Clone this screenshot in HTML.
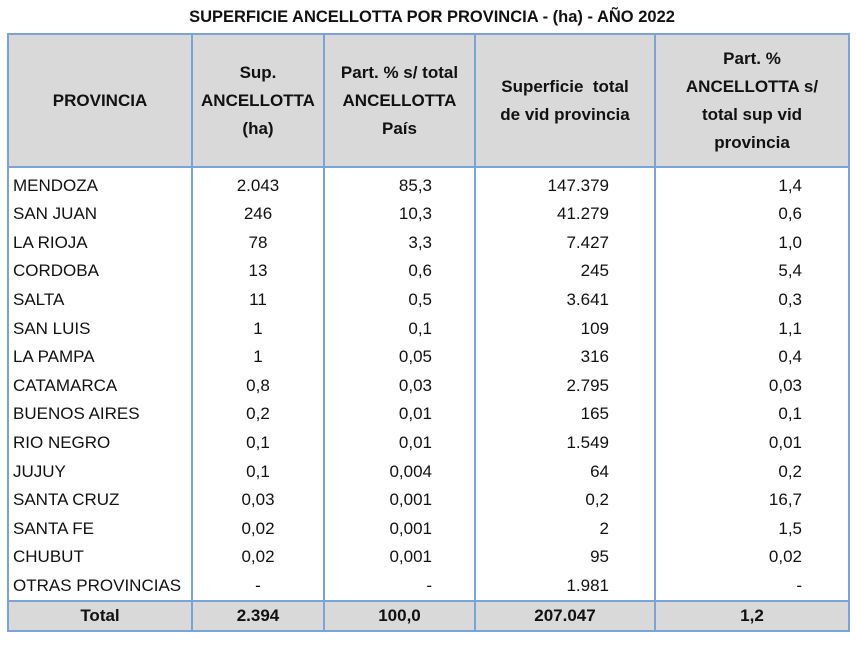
<!DOCTYPE html>
<html><head><meta charset="utf-8"><style>
body{margin:0;background:#fff;width:856px;height:645px;overflow:hidden;font-family:"Liberation Sans",sans-serif;color:#111}
.title{position:absolute;top:8px;left:4px;width:856px;text-align:center;font-weight:bold;font-size:16.5px}
table{position:absolute;left:7px;top:33px;border-collapse:collapse;table-layout:fixed}
td,th{padding:0;font-size:17px;white-space:nowrap}
th{background:#d9d9d9;border:2px solid #7aa3dc;font-weight:bold;line-height:28px;height:131px}
td{border-left:2px solid #7aa3dc;border-right:2px solid #7aa3dc;height:28.6px;line-height:28px}
td.n{text-align:center}
td.r2{text-align:right;padding-right:42px}
td.r3{text-align:right;padding-right:45px}
td.r4{text-align:right;padding-right:46px}
td.p{padding-left:4px}
tr.first td{height:32px;vertical-align:bottom}
tr.last td{height:27px}
tr.tot td{background:#d9d9d9;font-weight:bold;text-align:center;border:2px solid #7aa3dc;height:27px}
</style></head><body>
<div class="title">SUPERFICIE ANCELLOTTA POR PROVINCIA - (ha) - AÑO 2022</div>
<table>
<colgroup><col style="width:184px"><col style="width:132px"><col style="width:151px"><col style="width:180px"><col style="width:194px"></colgroup>
<tr><th>PROVINCIA</th><th>Sup.<br>ANCELLOTTA<br>(ha)</th><th>Part. % s/ total<br>ANCELLOTTA<br>País</th><th>Superficie&nbsp; total<br>de vid provincia</th><th>Part. %<br>ANCELLOTTA s/<br>total sup vid<br>provincia</th></tr>
<tr class="first"><td class="p">MENDOZA</td><td class="n">2.043</td><td class="r2">85,3</td><td class="r3">147.379</td><td class="r4">1,4</td></tr>
<tr><td class="p">SAN JUAN</td><td class="n">246</td><td class="r2">10,3</td><td class="r3">41.279</td><td class="r4">0,6</td></tr>
<tr><td class="p">LA RIOJA</td><td class="n">78</td><td class="r2">3,3</td><td class="r3">7.427</td><td class="r4">1,0</td></tr>
<tr><td class="p">CORDOBA</td><td class="n">13</td><td class="r2">0,6</td><td class="r3">245</td><td class="r4">5,4</td></tr>
<tr><td class="p">SALTA</td><td class="n">11</td><td class="r2">0,5</td><td class="r3">3.641</td><td class="r4">0,3</td></tr>
<tr><td class="p">SAN LUIS</td><td class="n">1</td><td class="r2">0,1</td><td class="r3">109</td><td class="r4">1,1</td></tr>
<tr><td class="p">LA PAMPA</td><td class="n">1</td><td class="r2">0,05</td><td class="r3">316</td><td class="r4">0,4</td></tr>
<tr><td class="p">CATAMARCA</td><td class="n">0,8</td><td class="r2">0,03</td><td class="r3">2.795</td><td class="r4">0,03</td></tr>
<tr><td class="p">BUENOS AIRES</td><td class="n">0,2</td><td class="r2">0,01</td><td class="r3">165</td><td class="r4">0,1</td></tr>
<tr><td class="p">RIO NEGRO</td><td class="n">0,1</td><td class="r2">0,01</td><td class="r3">1.549</td><td class="r4">0,01</td></tr>
<tr><td class="p">JUJUY</td><td class="n">0,1</td><td class="r2">0,004</td><td class="r3">64</td><td class="r4">0,2</td></tr>
<tr><td class="p">SANTA CRUZ</td><td class="n">0,03</td><td class="r2">0,001</td><td class="r3">0,2</td><td class="r4">16,7</td></tr>
<tr><td class="p">SANTA FE</td><td class="n">0,02</td><td class="r2">0,001</td><td class="r3">2</td><td class="r4">1,5</td></tr>
<tr><td class="p">CHUBUT</td><td class="n">0,02</td><td class="r2">0,001</td><td class="r3">95</td><td class="r4">0,02</td></tr>
<tr class="last"><td class="p">OTRAS PROVINCIAS</td><td class="n">-</td><td class="r2">-</td><td class="r3">1.981</td><td class="r4">-</td></tr>
<tr class="tot"><td>Total</td><td>2.394</td><td>100,0</td><td>207.047</td><td>1,2</td></tr>
</table>
</body></html>
